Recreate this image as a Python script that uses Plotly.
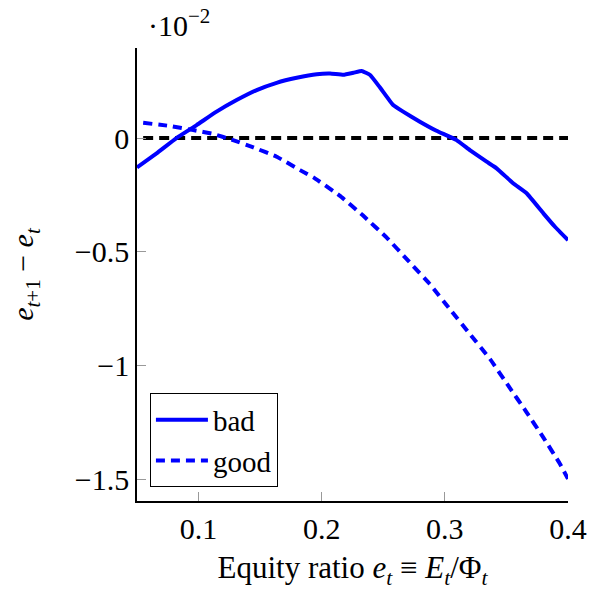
import plotly.graph_objects as go

# Equity ratio grid and one-step change of the equity ratio (in units of 1e-2)
bad_x = [0.05, 0.0659, 0.082, 0.0984, 0.1146, 0.1309, 0.1472, 0.1634, 0.1797,
         0.196, 0.2068, 0.2176, 0.2258, 0.2325, 0.2393, 0.2472, 0.258, 0.2661,
         0.2797, 0.2932, 0.3095, 0.3203, 0.3339, 0.342, 0.3555, 0.3664, 0.38,
         0.3894, 0.4]
bad_y = [-0.129, -0.067, 0.0, 0.057, 0.116, 0.167, 0.211, 0.243, 0.265,
         0.281, 0.284, 0.278, 0.287, 0.295, 0.277, 0.223, 0.145, 0.116,
         0.072, 0.032, -0.009, -0.053, -0.104, -0.133, -0.199, -0.243, -0.331,
         -0.39, -0.449]

good_x = [0.055, 0.0767, 0.0957, 0.112, 0.128, 0.1445, 0.1634, 0.1824, 0.1932,
          0.2146, 0.2336, 0.2526, 0.2702, 0.2878, 0.304, 0.3203, 0.3366, 0.3515,
          0.3664, 0.3799, 0.3935, 0.4]
good_y = [0.067, 0.053, 0.035, 0.018, -0.009, -0.041, -0.082, -0.141, -0.173,
          -0.253, -0.341, -0.437, -0.539, -0.642, -0.752, -0.862, -0.971, -1.089,
          -1.206, -1.316, -1.433, -1.499]

zero_x = [0.055, 0.4]
zero_y = [0, 0]

x_ticks = [0.1, 0.2, 0.3, 0.4]
x_tick_labels = ["0.1", "0.2", "0.3", "0.4"]
y_ticks = [-1.5, -1.0, -0.5, 0.0]
y_tick_labels = ["−1.5", "−1", "−0.5", "0"]

FONT = "Liberation Serif"
FS = 30
BLUE = "#0000ff"

fig = go.Figure()
fig.add_trace(go.Scatter(x=zero_x, y=zero_y, mode="lines", showlegend=False,
                         line=dict(color="black", width=4, dash="10px,6px")))
fig.add_trace(go.Scatter(x=bad_x, y=bad_y, mode="lines", name="bad",
                         line=dict(color=BLUE, width=4, shape="spline", smoothing=0.3)))
fig.add_trace(go.Scatter(x=good_x, y=good_y, mode="lines", name="good",
                         line=dict(color=BLUE, width=4, dash="9px,6px",
                                   shape="spline", smoothing=0.3)))

fig.update_layout(
    width=591, height=590,
    margin=dict(l=137, r=23, t=48, b=89, autoexpand=False),
    paper_bgcolor="white", plot_bgcolor="white",
    font=dict(family=FONT, size=FS, color="black"),
    showlegend=True,
    legend=dict(x=0.03, y=0.03, xanchor="left", yanchor="bottom",
                bgcolor="white", bordercolor="black", borderwidth=1,
                font=dict(family=FONT, size=29), tracegroupgap=0,
                itemwidth=52),
    xaxis=dict(range=[0.05, 0.4], tickvals=x_ticks, ticktext=x_tick_labels,
               automargin=False,
               showgrid=False, zeroline=False, showline=True, linecolor="black",
               linewidth=1.5, ticks="inside", ticklen=9, tickcolor="#999999",
               tickwidth=1, tickfont=dict(family=FONT, size=FS),
               title=dict(text="Equity ratio <i>e</i><sub><i>t</i></sub> ≡ "
                               "<i>E</i><sub><i>t</i></sub>/Φ<sub><i>t</i></sub>",
                          font=dict(family=FONT, size=31), standoff=14)),
    yaxis=dict(range=[-1.596, 0.396], tickvals=y_ticks, ticktext=y_tick_labels,
               automargin=False,
               showgrid=False, zeroline=False, showline=True, linecolor="black",
               linewidth=1.5, ticks="inside", ticklen=9, tickcolor="#999999",
               tickwidth=1, tickfont=dict(family=FONT, size=FS),
               title=dict(text="<i>e</i><sub><i>t</i>+1</sub> − <i>e</i><sub><i>t</i></sub>",
                          font=dict(family=FONT, size=FS), standoff=32)),
    annotations=[dict(text="·10<sup>−2</sup>", xref="paper", yref="paper",
                      x=0.02, y=1.0, xanchor="left", yanchor="bottom", yshift=4,
                      showarrow=False, font=dict(family=FONT, size=FS))],
)

fig.write_html("out.html")
